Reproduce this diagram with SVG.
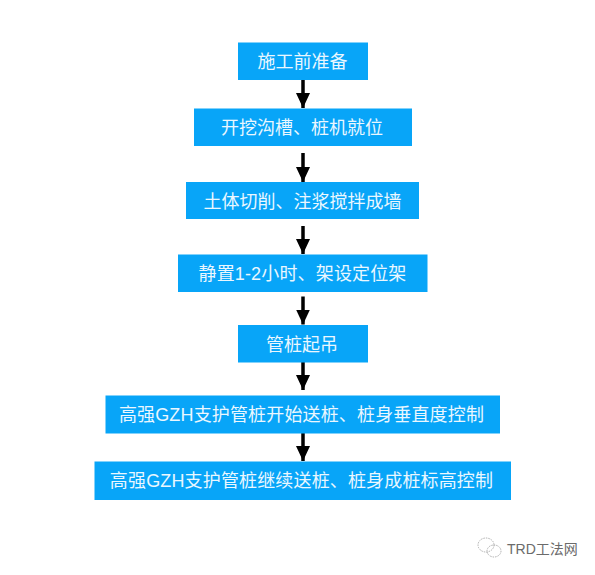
<svg xmlns="http://www.w3.org/2000/svg" width="595" height="575" viewBox="0 0 595 575">
<style>
.b{fill:#08a5f8}
.t{fill:#eaf7ff;font-family:"Liberation Sans","Noto Sans CJK SC",sans-serif;font-size:18px;text-anchor:middle;dominant-baseline:central}
.s{letter-spacing:.15px}
.c{stroke:#000;stroke-width:3.5;fill:none;marker-end:url(#a)}
.w{fill:#6b6b6b;font-family:"Liberation Sans","Noto Sans CJK SC",sans-serif;font-size:14px}
.i{fill:none;stroke:#9a9a9a;stroke-width:.8;stroke-dasharray:1.5 1}
</style>
<defs><marker id="a" markerUnits="userSpaceOnUse" markerWidth="16" markerHeight="15" refX="15" refY="7" orient="auto"><path d="M0 0L15 7L0 14Z" fill="#000"/></marker></defs>
<rect width="595" height="575" fill="#fff"/>
<g id="connectors">
<path class="c" d="M303 80V108"/>
<path class="c" d="M303 153V182"/>
<path class="c" d="M303 226V254"/>
<path class="c" d="M303 296.500V324.500"/>
<path class="c" d="M303 362V390"/>
<path class="c" d="M303 433V461"/>
</g>
<g id="n1"><rect class="b" x="238" y="42.500" width="130" height="37.500"/><text class="t" x="302.500" y="62">施工前准备</text></g>
<g id="n2"><rect class="b" x="194" y="108.500" width="218" height="37.500"/><text class="t" x="302" y="128">开挖沟槽、桩机就位</text></g>
<g id="n3"><rect class="b" x="186" y="182" width="233" height="37"/><text class="t" x="302.500" y="202">土体切削、注浆搅拌成墙</text></g>
<g id="n4"><rect class="b" x="178" y="254.500" width="249.500" height="37.500"/><text class="t s" x="302.500" y="274">静置1-2小时、架设定位架</text></g>
<g id="n5"><rect class="b" x="238" y="325" width="130" height="37.500"/><text class="t" x="302" y="345">管桩起吊</text></g>
<g id="n6"><rect class="b" x="105.500" y="395.500" width="394.500" height="38"/><text class="t s" x="301.500" y="415">高强GZH支护管桩开始送桩、桩身垂直度控制</text></g>
<g id="n7"><rect class="b" x="94.500" y="461.500" width="416.500" height="38.500"/><text class="t s" x="301.500" y="481">高强GZH支护管桩继续送桩、桩身成桩标高控制</text></g>
<g id="watermark"><ellipse class="i" cx="486" cy="545" rx="8" ry="7"/><ellipse class="i" cx="494" cy="551" rx="7" ry="6"/><text class="w" x="507" y="554">TRD工法网</text></g>
</svg>
